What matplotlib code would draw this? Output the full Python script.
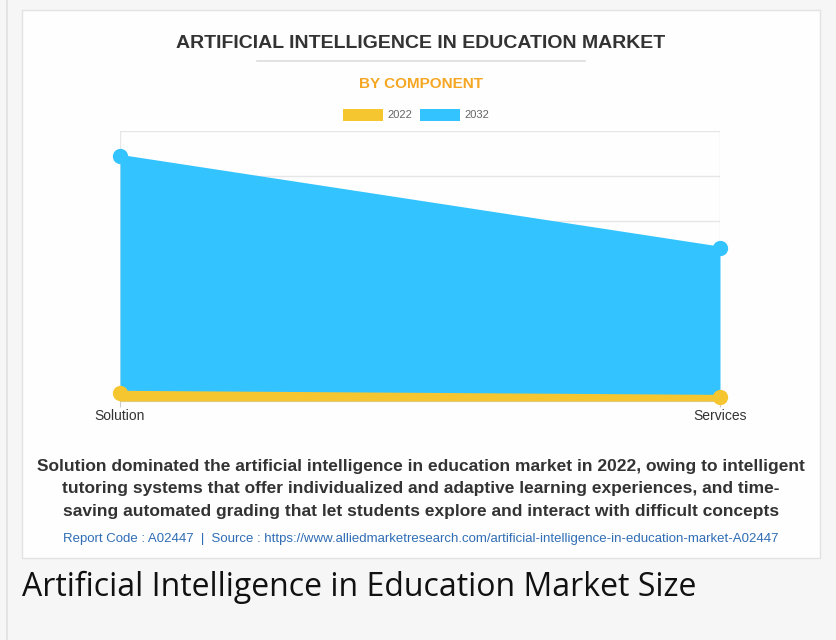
import matplotlib.pyplot as plt
from matplotlib.patches import Rectangle
from matplotlib.lines import Line2D

# data (USD billion)
components = ["Solution", "Services"]
values_2022 = [1.8, 0.9]
values_2032 = [54.4, 34.0]
years = ["2022", "2032"]
colors = {"2022": "#F5C630", "2032": "#33C4FF"}

W, H = 836, 640
fig = plt.figure(figsize=(W / 100, H / 100), dpi=100)
fig.patch.set_facecolor("#f6f6f6")

def px(x, y):
    return x / W, 1 - y / H

# white card
card = Rectangle(px(22, 558), 798 / W, 548 / H, transform=fig.transFigure,
                 facecolor="#fefefe", edgecolor="#e2e2e2", lw=1, zorder=-1)
fig.patches.append(card)
fig.add_artist(Line2D([7 / W, 7 / W], [0, 1], color="#e0e0e0", lw=1.2))

ax = fig.add_axes([120 / W, (H - 401) / H, 600 / W, 270 / H], zorder=2)
ax.set_facecolor("none")
x = list(range(len(components)))

ax.fill_between(x, values_2032, 0, color=colors["2032"], lw=0, zorder=2)
ax.plot(x, values_2032, color=colors["2032"], lw=2, marker="o", ms=10,
        zorder=3, clip_on=False)
ax.fill_between(x, values_2022, 0, color=colors["2022"], lw=0, zorder=4)
ax.plot(x, values_2022, color=colors["2022"], lw=3, marker="o", ms=10,
        zorder=5, clip_on=False)

ax.set_xlim(0, 1)
ax.set_ylim(0, 60)
ax.set_yticks(range(0, 61, 10))
ax.set_yticklabels([])
ax.set_xticks(x)
ax.set_xticklabels(components, fontsize=10, color="#333333",
                   family="Liberation Sans")
ax.tick_params(axis="y", length=0)
ax.tick_params(axis="x", length=4, color="#cccccc", pad=2)
ax.grid(True, color="#e6e6e6", lw=1, zorder=0)
for s in ["top", "right", "left"]:
    ax.spines[s].set_visible(False)
ax.spines["bottom"].set_color("#cccccc")
ax.set_axisbelow(True)

# titles
fig.text(*px(421, 43), "ARTIFICIAL INTELLIGENCE IN EDUCATION MARKET",
         ha="center", va="center", fontsize=14, fontweight="bold",
         color="#333333", family="Liberation Sans")
fig.add_artist(Line2D([257 / W, 585 / W], [1 - 61 / H] * 2,
                      color="#dddddd", lw=1.2))
fig.text(*px(421, 84), "BY COMPONENT", ha="center", va="center",
         fontsize=11, fontweight="bold", color="#F5A623",
         family="Liberation Sans")

# legend
for i, yr in enumerate(years):
    x0 = 343 + i * 77
    fig.patches.append(Rectangle(px(x0, 121), 40 / W, 12 / H,
                                 transform=fig.transFigure,
                                 facecolor=colors[yr], edgecolor="none"))
    fig.text(*px(x0 + 44, 115), yr, ha="left", va="center", fontsize=8,
             color="#666666", family="Liberation Sans")

caption = ("Solution dominated the artificial intelligence in education market in 2022, owing to intelligent\n"
           "tutoring systems that offer individualized and adaptive learning experiences, and time-\n"
           "saving automated grading that let students explore and interact with difficult concepts")
fig.text(*px(421, 489), caption, ha="center", va="center", fontsize=12.5,
         fontweight="bold", color="#333333", family="Liberation Sans",
         linespacing=1.62)
fig.text(*px(421, 539),
         "Report Code : A02447  |  Source : https://www.alliedmarketresearch.com/artificial-intelligence-in-education-market-A02447",
         ha="center", va="center", fontsize=9.5, color="#2F6DB5",
         family="Liberation Sans")

fig.text(*px(22, 587), "Artificial Intelligence in Education Market Size",
         ha="left", va="center", fontsize=23, color="#111111",
         family="Open Sans")

fig.savefig("out.png", dpi=100, facecolor=fig.get_facecolor())
